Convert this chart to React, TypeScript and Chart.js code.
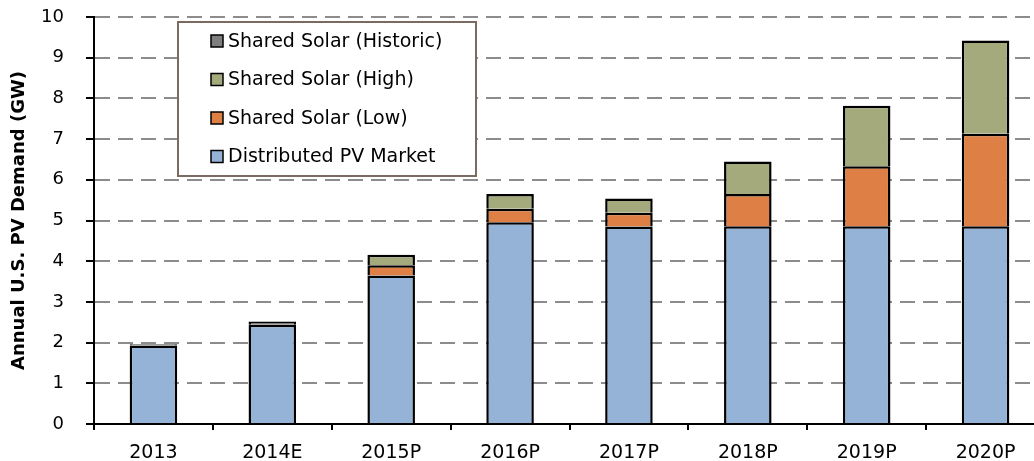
import React, { useEffect, useRef } from "react";
import { Chart, registerables } from "chart.js";

Chart.register(...registerables);

const categories = ["2013", "2014E", "2015P", "2016P", "2017P", "2018P", "2019P", "2020P"];
const distributedPV = [1.93, 2.44, 3.65, 4.96, 4.85, 4.86, 4.86, 4.86];
const sharedLow = [null, null, 0.25, 0.33, 0.34, 0.79, 1.47, 2.27];
const sharedHigh = [null, null, 0.26, 0.36, 0.35, 0.8, 1.49, 2.29];
const sharedHistoric = [0.03, 0.08, null, null, null, null, null, null];
const legendLabels = [
  "Shared Solar (Historic)",
  "Shared Solar (High)",
  "Shared Solar (Low)",
  "Distributed PV Market",
];
const yTitle = "Annual U.S. PV Demand (GW)";

const FONT = "'DejaVu Sans', sans-serif";
const colors = {
  dist: "#95B3D7",
  low: "#DE8046",
  high: "#A5AA7D",
  hist: "#7F7F7F",
};

const legendPlugin = {
  id: "boxLegend",
  afterDraw(chart: any) {
    const ctx = chart.ctx;
    ctx.save();
    const x0 = 178, y0 = 22, w = 298, h = 154;
    ctx.fillStyle = "#ffffff";
    ctx.fillRect(x0, y0, w, h);
    ctx.strokeStyle = "#7B6A62";
    ctx.lineWidth = 2;
    ctx.strokeRect(x0, y0, w, h);
    const items = [
      { label: legendLabels[0], color: colors.hist },
      { label: legendLabels[1], color: colors.high },
      { label: legendLabels[2], color: colors.low },
      { label: legendLabels[3], color: colors.dist },
    ];
    const rows = [41, 79.5, 118, 156.5];
    ctx.font = `19px ${FONT}`;
    ctx.textBaseline = "middle";
    ctx.textAlign = "left";
    items.forEach((it, i) => {
      const cy = rows[i];
      ctx.fillStyle = it.color;
      ctx.fillRect(211, cy - 6, 12, 12);
      ctx.strokeStyle = "#000";
      ctx.lineWidth = 1.5;
      ctx.strokeRect(211, cy - 6, 12, 12);
      ctx.fillStyle = "#000";
      ctx.fillText(it.label, 228, cy + 1);
    });
    ctx.restore();
  },
};

export default function App() {
  const ref = useRef<HTMLCanvasElement | null>(null);
  useEffect(() => {
    if (!ref.current) return;
    const common = { borderColor: "#000", borderWidth: 2.5, borderSkipped: "start" as const, barPercentage: 0.4, categoryPercentage: 1 };
    const chart = new Chart(ref.current, {
      type: "bar",
      data: {
        labels: categories,
        datasets: [
          { label: legendLabels[3], data: distributedPV, backgroundColor: colors.dist, ...common },
          { label: legendLabels[2], data: sharedLow as any, backgroundColor: colors.low, ...common },
          { label: legendLabels[1], data: sharedHigh as any, backgroundColor: colors.high, ...common },
          { label: legendLabels[0], data: sharedHistoric as any, backgroundColor: colors.hist, ...common },
        ],
      },
      options: {
        animation: false,
        responsive: false,
        devicePixelRatio: 1,
        layout: { padding: { top: 17, right: 5, left: 0, bottom: 0 } },
        plugins: { legend: { display: false }, tooltip: { enabled: false } },
        scales: {
          x: {
            stacked: true,
            afterFit: (s: any) => { s.height = 37; },
            grid: { drawOnChartArea: false, offset: true, color: "#000", tickColor: "#000", tickLength: 6, tickWidth: 2, lineWidth: 2 },
            border: { color: "#000", width: 2 },
            ticks: { color: "#000", font: { family: FONT, size: 19 }, padding: 12, maxRotation: 0 },
          },
          y: {
            stacked: true,
            min: 0,
            max: 10,
            afterFit: (s: any) => { s.width = 94; s.paddingTop = 0; s.paddingBottom = 0; },
            grid: { color: "#8C8C8C", lineWidth: 2, tickColor: "#000", tickLength: 8, tickWidth: 2 },
            border: { color: "#000", width: 2, dash: [15, 8] },
            ticks: { stepSize: 1, color: "#000", font: { family: FONT, size: 18 }, padding: 22 },
            title: { display: true, text: yTitle, color: "#000", font: { family: FONT, size: 18, weight: "bold" }, padding: { top: 9, bottom: 0 } },
          },
        },
      },
      plugins: [legendPlugin],
    });
    return () => chart.destroy();
  }, []);
  return (
    <div style={{ position: "fixed", left: 0, top: 0, width: 1034, height: 461, overflow: "hidden", background: "#fff" }}>
      <canvas ref={ref} width={1050} height={461} style={{ display: "block" }} />
    </div>
  );
}
